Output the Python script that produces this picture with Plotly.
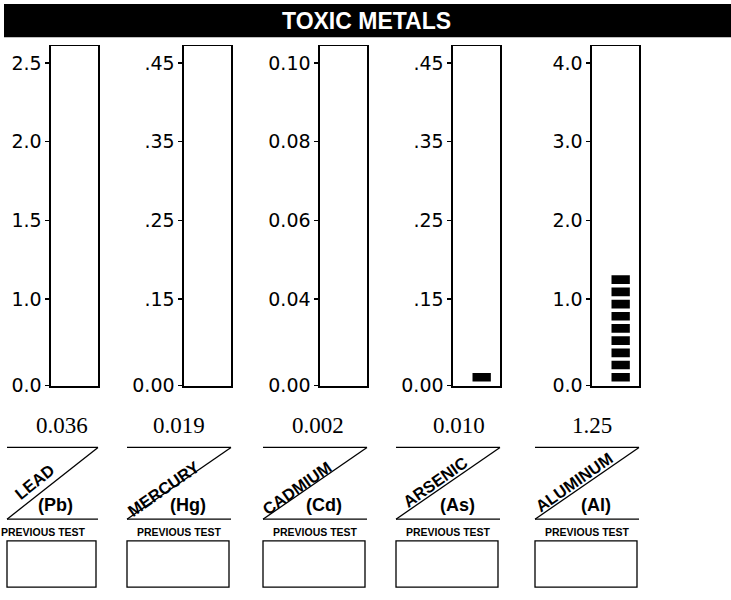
import math
import plotly.graph_objects as go

W, H = 731, 600

# ---------------- data ----------------
elements = ["LEAD", "MERCURY", "CADMIUM", "ARSENIC", "ALUMINUM"]
symbols = ["(Pb)", "(Hg)", "(Cd)", "(As)", "(Al)"]
results = ["0.036", "0.019", "0.002", "0.010", "1.25"]
lead_ticks = ["0.0", "1.0", "1.5", "2.0", "2.5"]
mercury_ticks = ["0.00", ".15", ".25", ".35", ".45"]
cadmium_ticks = ["0.00", "0.04", "0.06", "0.08", "0.10"]
arsenic_ticks = ["0.00", ".15", ".25", ".35", ".45"]
aluminum_ticks = ["0.0", "1.0", "2.0", "3.0", "4.0"]
bar_segments = [0, 0, 0, 1, 9]   # black segments drawn in each result bar

tick_sets = [lead_ticks, mercury_ticks, cadmium_ticks, arsenic_ticks, aluminum_ticks]

# ---------------- layout constants (pixels) ----------------
BOX_LEFT = [51, 184, 320, 453, 592]
BOX_W = 47
BOX_TOP, BOX_BOTTOM = 47, 393
ZERO_Y, STEP_PX = 392, 80
TICK_POS = [0, 1.1, 2.1, 3.1, 4.1]          # scale positions of the five ticks
SEG_BASE, SEG_STEP, SEG_H = 0.05, 0.155, 0.11
BAR_X, BAR_W = 0.61, 0.39

VALUE_X = [62, 179, 318, 459, 592]
NAME_POS = [(34, 490), (163, 497), (297, 496), (435, 490), (574, 490)]
BLOCK_W = [91, 104, 104, 104, 104]
PT_X_OFF = [55, 52, 52, 52, 52]
TOP_LINE, BOT_LINE = 455, 528


def px(x):
    return x / W


def py(y):
    return 1 - y / H


fig = go.Figure()
layout = dict(
    width=W, height=H, margin=dict(l=0, r=0, t=0, b=0),
    paper_bgcolor="white", plot_bgcolor="white",
    showlegend=False, barmode="overlay",
)
shapes = []
annotations = []

# title bar
shapes.append(dict(type="rect", xref="paper", yref="paper",
                   x0=px(4), x1=px(731), y0=py(38), y1=py(4),
                   fillcolor="black", line=dict(width=0), layer="below"))
annotations.append(dict(text="<b>TOXIC METALS</b>", x=px(366), y=py(21),
                        xref="paper", yref="paper", showarrow=False,
                        xanchor="center", yanchor="middle",
                        font=dict(family="Liberation Sans, Arial", size=23, color="white")))

for i in range(5):
    sfx = "" if i == 0 else str(i + 1)
    xa, ya = "x" + sfx, "y" + sfx
    n = bar_segments[i]
    fig.add_trace(go.Bar(
        x=[BAR_X] * n, y=[SEG_H] * n,
        base=[SEG_BASE + k * SEG_STEP for k in range(n)],
        width=BAR_W, marker=dict(color="black", line=dict(width=0)),
        xaxis=xa, yaxis=ya, hoverinfo="skip", showlegend=False))

    left = BOX_LEFT[i]
    right = left + BOX_W
    layout["xaxis" + sfx] = dict(
        domain=[px(left), px(right)], range=[0, 1], anchor=ya,
        showline=True, mirror=True, linecolor="black", linewidth=1.6,
        showticklabels=False, ticks="", showgrid=False, zeroline=False, fixedrange=True)
    layout["yaxis" + sfx] = dict(
        domain=[py(BOX_BOTTOM), py(BOX_TOP)],
        range=[(ZERO_Y - BOX_BOTTOM) / STEP_PX, (ZERO_Y - BOX_TOP) / STEP_PX],
        anchor=xa, tickvals=TICK_POS, ticktext=tick_sets[i],
        ticks="outside", ticklen=4, tickwidth=1.2, tickcolor="black",
        showline=True, mirror=True, linecolor="black", linewidth=1.6,
        showgrid=False, zeroline=False, fixedrange=True,
        tickfont=dict(family="DejaVu Sans", size=19, color="black"))

    # result value
    annotations.append(dict(text=results[i], x=px(VALUE_X[i]), y=py(433),
                            xref="paper", yref="paper", showarrow=False,
                            xanchor="center", yanchor="middle",
                            font=dict(family="Liberation Serif, Times New Roman", size=23, color="black")))

    # label block
    R = right
    L = R - BLOCK_W[i]
    for yy in (TOP_LINE, BOT_LINE):
        shapes.append(dict(type="line", xref="paper", yref="paper",
                           x0=px(L), x1=px(R), y0=py(yy), y1=py(yy),
                           line=dict(color="black", width=1.3)))
    shapes.append(dict(type="line", xref="paper", yref="paper",
                       x0=px(L), x1=px(R), y0=py(BOT_LINE), y1=py(TOP_LINE),
                       line=dict(color="black", width=1.3)))
    ang = math.degrees(math.atan2(BOT_LINE - TOP_LINE, R - L))
    nx, ny = NAME_POS[i]
    annotations.append(dict(text="<b>" + elements[i] + "</b>", x=px(nx), y=py(ny),
                            xref="paper", yref="paper", showarrow=False,
                            xanchor="center", yanchor="middle", textangle=-ang,
                            font=dict(family="Liberation Sans, Arial", size=16.5, color="black")))
    annotations.append(dict(text="<b>" + symbols[i] + "</b>", x=px(R - 43), y=py(514),
                            xref="paper", yref="paper", showarrow=False,
                            xanchor="center", yanchor="middle",
                            font=dict(family="Liberation Sans, Arial", size=18, color="black")))
    annotations.append(dict(text="<b>PREVIOUS TEST</b>", x=px(R - PT_X_OFF[i]), y=py(541),
                            xref="paper", yref="paper", showarrow=False,
                            xanchor="center", yanchor="middle",
                            font=dict(family="Liberation Sans, Arial", size=10.5, color="black")))
    shapes.append(dict(type="rect", xref="paper", yref="paper",
                       x0=px(L), x1=px(R - 2), y0=py(597), y1=py(550),
                       line=dict(color="black", width=1.3), fillcolor="rgba(0,0,0,0)"))

layout["shapes"] = shapes
layout["annotations"] = annotations
fig.update_layout(**layout)
fig.write_html("out.html",
               config={"displayModeBar": False, "staticPlot": True},
               post_script="document.body.style.margin='0';"
                           "document.body.style.overflow='hidden';")
